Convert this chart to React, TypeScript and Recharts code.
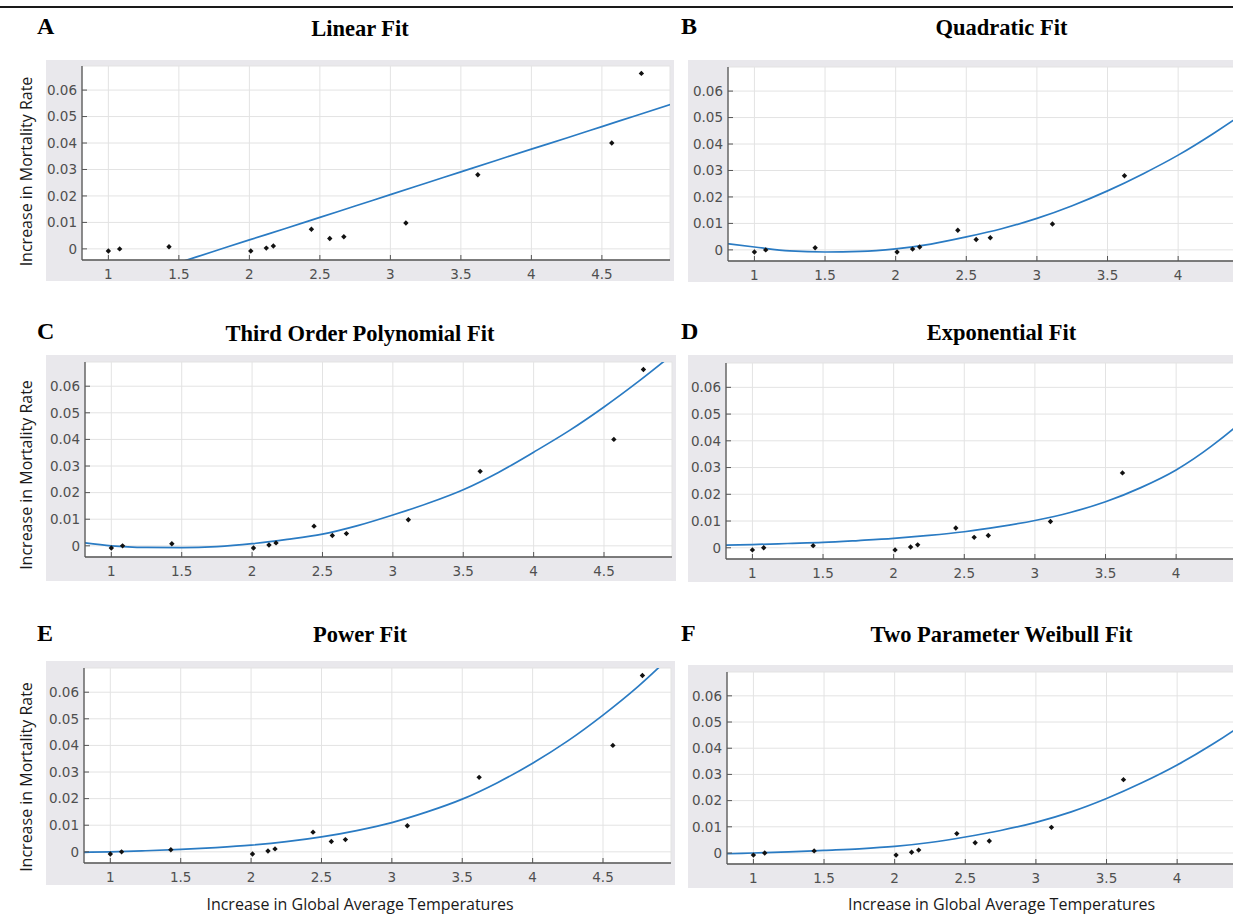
import {
  ComposedChart,
  Line,
  Scatter,
  XAxis,
  YAxis,
  CartesianGrid,
} from "recharts";

// measured points, the same in all six panels
const temps = [1.0, 1.08, 1.43, 2.01, 2.12, 2.17, 2.44, 2.57, 2.67, 3.11, 3.62, 4.57, 4.78];
const mortality = [-0.0008, 0.0, 0.0008, -0.0008, 0.0003, 0.0011, 0.0074, 0.0039, 0.0046, 0.0098, 0.028, 0.04, 0.0663];

// fitted curves at these temperatures
const fitTemps = [0.8, 1.0, 1.25, 1.5, 1.75, 2.0, 2.25, 2.5, 2.75, 3.0, 3.25, 3.5, 3.75, 4.0, 4.25, 4.5, 4.75, 5.0];
const linearFit = [-0.0172, -0.0138, -0.0095, -0.0052, -0.0009, 0.0034, 0.0076, 0.0119, 0.0162, 0.0205, 0.0248, 0.0291, 0.0334, 0.0377, 0.0419, 0.0462, 0.0505, 0.0548];
const quadraticFit = [0.0024, 0.0011, -0.0004, -0.0008, -0.0006, 0.0004, 0.0022, 0.0049, 0.008, 0.0119, 0.0167, 0.0223, 0.0287, 0.0358, 0.044, 0.053, 0.0628, 0.073];
const cubicFit = [0.0012, 0.0, -0.0006, -0.0007, -0.0003, 0.0008, 0.0024, 0.0044, 0.0076, 0.0116, 0.016, 0.0211, 0.0276, 0.0352, 0.0432, 0.0522, 0.062, 0.0725];
const exponentialFit = [0.001, 0.0012, 0.0016, 0.002, 0.0027, 0.0035, 0.0046, 0.006, 0.0079, 0.0102, 0.0132, 0.0172, 0.0225, 0.0291, 0.038, 0.049, 0.064, 0.083];
const powerFit = [-0.0002, 0.0, 0.0004, 0.0009, 0.0016, 0.0025, 0.0038, 0.0056, 0.008, 0.011, 0.015, 0.0198, 0.026, 0.0333, 0.0417, 0.0514, 0.0622, 0.0745];
const weibullFit = [-0.0003, 0.0, 0.0004, 0.001, 0.0016, 0.0025, 0.004, 0.0061, 0.0086, 0.0117, 0.0157, 0.0208, 0.0268, 0.0336, 0.0415, 0.0505, 0.0605, 0.0715];

const letters = ["A", "B", "C", "D", "E", "F"];
const titles = [
  "Linear Fit",
  "Quadratic Fit",
  "Third Order Polynomial Fit",
  "Exponential Fit",
  "Power Fit",
  "Two Parameter Weibull Fit",
];
const fits = [linearFit, quadraticFit, cubicFit, exponentialFit, powerFit, weibullFit];

// right-hand panels are cropped by the page edge, so their last tick is 4
const xTicksLeft = [1, 1.5, 2, 2.5, 3, 3.5, 4, 4.5];
const xTicksRight = [1, 1.5, 2, 2.5, 3, 3.5, 4];
const yTicks = [0, 0.01, 0.02, 0.03, 0.04, 0.05, 0.06];
const xDomain: [number, number] = [0.813, 4.983];
const yDomain: [number, number] = [-0.0042, 0.0691];

const yLabel = "Increase in Mortality Rate";
const xLabel = "Increase in Global Average Temperatures";

const GRAY = "#e9e8ec";
const BORDER = "#555555";
const GRID = "#e3e3e3";
const BLUE = "#2a7bc3";
const TICK_TEXT = "#4f4f4f";
const SANS = "'Open Sans', sans-serif";
const SERIF = "'Liberation Serif', 'Times New Roman', serif";

// panel geometry in page pixels
const layout = [
  { grayLeft: 46, grayTop: 60, grayBottom: 281, plotLeft: 82, plotTop: 66, plotBottom: 260, plotW: 588, left: true, titleY: 36, labelY: 171.5 },
  { grayLeft: 688, grayTop: 60, grayBottom: 282, plotLeft: 728, plotTop: 67, plotBottom: 261, plotW: 589, left: false, titleY: 35 },
  { grayLeft: 46, grayTop: 355, grayBottom: 581, plotLeft: 85, plotTop: 362, plotBottom: 557, plotW: 587, left: true, titleY: 340.5, labelY: 475 },
  { grayLeft: 688, grayTop: 355, grayBottom: 582, plotLeft: 726, plotTop: 363, plotBottom: 559, plotW: 589, left: false, titleY: 340 },
  { grayLeft: 46, grayTop: 661, grayBottom: 885, plotLeft: 84, plotTop: 668, plotBottom: 863, plotW: 587, left: true, titleY: 641.5, labelY: 777 },
  { grayLeft: 688, grayTop: 665, grayBottom: 888, plotLeft: 727, plotTop: 672, plotBottom: 864, plotW: 589, left: false, titleY: 641.5 },
];

const points = temps.map((t, i) => ({ x: t, y: mortality[i] }));

const fmtY = (v: number) => (v === 0 ? "0" : v.toFixed(2));

const Marker = (props: any) => {
  const { cx, cy } = props;
  if (cx == null || cy == null) return null;
  const r = 2.7;
  return (
    <path
      d={`M${cx - r},${cy}L${cx},${cy - r}L${cx + r},${cy}L${cx},${cy + r}Z`}
      fill="#111"
    />
  );
};

function FitPanel({ idx }: { idx: number }) {
  const g = layout[idx];
  const curve = fitTemps.map((t, i) => ({ x: t, y: fits[idx][i] }));
  const chartLeft = g.left ? 0 : g.grayLeft;
  const width = g.plotLeft - chartLeft + g.plotW + 4;
  const height = g.grayBottom - g.grayTop;
  const xTicks = g.left ? xTicksLeft : xTicksRight;
  const tickStyle = { fill: TICK_TEXT, fontSize: 13.5, fontFamily: "'DejaVu Sans', sans-serif" };

  const labelFn = g.left
    ? () => {
        const cy = (g.labelY as number) - g.grayTop;
        return (
          <text
            x={32}
            y={cy}
            transform={`rotate(-90, 32, ${cy})`}
            textAnchor="middle"
            fontFamily={SANS}
            fontSize={16}
            fill="#1a1a1a"
          >
            {yLabel}
          </text>
        );
      }
    : undefined;

  return (
    <>
      <div
        style={{
          position: "absolute",
          left: g.grayLeft,
          top: g.grayTop,
          width: chartLeft + width - g.grayLeft,
          height,
          background: GRAY,
        }}
      />
      <div style={{ position: "absolute", left: chartLeft, top: g.grayTop }}>
        <ComposedChart
          width={width}
          height={height}
          margin={{ top: g.plotTop - g.grayTop, right: 4, bottom: 0, left: 0 }}
        >
          <CartesianGrid stroke={GRID} fill="#ffffff" />
          <Line
            data={curve}
            dataKey="y"
            type="monotone"
            stroke={BLUE}
            strokeWidth={1.7}
            dot={false}
            isAnimationActive={false}
          />
          <Scatter data={points} dataKey="y" shape={Marker} isAnimationActive={false} />
          <XAxis
            type="number"
            dataKey="x"
            domain={xDomain}
            ticks={xTicks}
            interval={0}
            allowDataOverflow
            height={g.grayBottom - g.plotBottom}
            tickSize={-5}
            tickMargin={14}
            axisLine={{ stroke: BORDER, strokeWidth: 1.3 }}
            tickLine={{ stroke: BORDER }}
            tick={tickStyle}
            tickFormatter={(v: number) => String(v)}
          />
          <XAxis
            xAxisId="top"
            orientation="top"
            type="number"
            domain={xDomain}
            ticks={xTicks}
            interval={0}
            allowDataOverflow
            height={0}
            tickSize={-5}
            axisLine={{ stroke: BORDER, strokeWidth: 1.3 }}
            tickLine={{ stroke: BORDER }}
            tick={false}
          />
          <YAxis
            type="number"
            domain={yDomain}
            ticks={yTicks}
            interval={0}
            allowDataOverflow
            width={g.plotLeft - chartLeft}
            tickSize={-5}
            tickMargin={10}
            axisLine={{ stroke: BORDER, strokeWidth: 1.3 }}
            tickLine={{ stroke: BORDER }}
            tick={tickStyle}
            tickFormatter={fmtY}
            label={labelFn}
          />
          <YAxis
            yAxisId="right"
            orientation="right"
            type="number"
            domain={yDomain}
            ticks={yTicks}
            interval={0}
            allowDataOverflow
            width={0}
            tickSize={-5}
            axisLine={{ stroke: BORDER, strokeWidth: 1.3 }}
            tickLine={{ stroke: BORDER }}
            tick={false}
          />
        </ComposedChart>
      </div>
    </>
  );
}

export default function App() {
  const titleCenters = [360, 1001.5];
  const letterX = [37, 681];
  const letterY = [33.5, 339, 641];
  return (
    <div
      style={{
        position: "fixed",
        left: 0,
        top: 0,
        width: 1233,
        height: 914,
        overflow: "hidden",
        background: "#ffffff",
      }}
    >
      {layout.map((_, i) => (
        <FitPanel key={i} idx={i} />
      ))}
      <svg
        width={1233}
        height={914}
        style={{ position: "absolute", left: 0, top: 0, pointerEvents: "none" }}
      >
        <rect x={0} y={6} width={1233} height={2} fill="#1a1a1a" />
        {layout.map((g, i) => (
          <g key={i}>
            <text
              x={letterX[i % 2]}
              y={letterY[Math.floor(i / 2)]}
              fontFamily={SERIF}
              fontWeight="bold"
              fontSize={24}
              fill="#000"
            >
              {letters[i]}
            </text>
            <text
              x={titleCenters[i % 2]}
              y={g.titleY}
              textAnchor="middle"
              fontFamily={SERIF}
              fontWeight="bold"
              fontSize={22.5}
              fill="#000"
            >
              {titles[i]}
            </text>
          </g>
        ))}
        {titleCenters.map((cx, i) => (
          <text
            key={i}
            x={cx}
            y={909.5}
            textAnchor="middle"
            fontFamily={SANS}
            fontSize={16}
            fill="#1a1a1a"
          >
            {xLabel}
          </text>
        ))}
      </svg>
    </div>
  );
}
